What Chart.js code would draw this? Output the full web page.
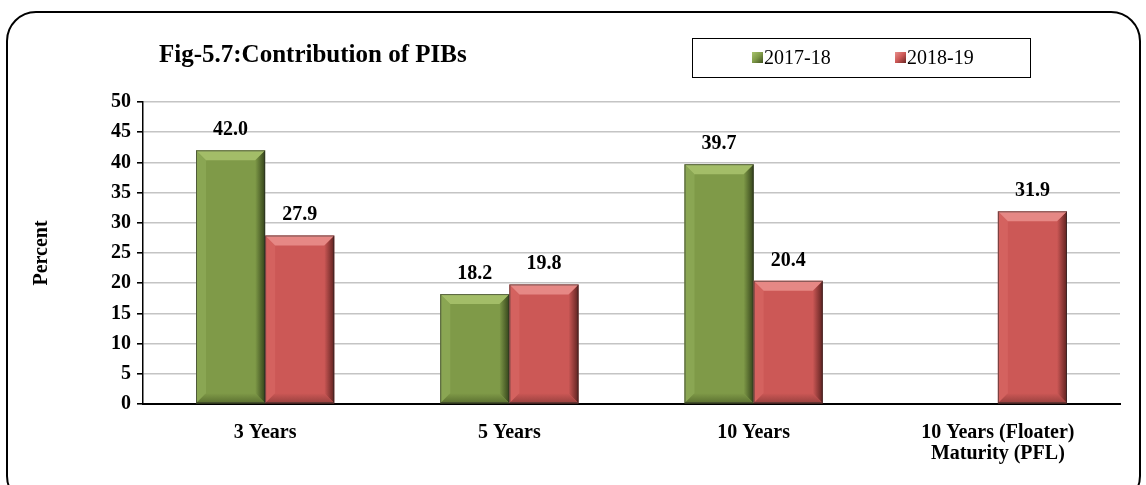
<!DOCTYPE html>
<html><head><meta charset="utf-8">
<script src="https://cdn.jsdelivr.net/npm/chart.js@4.4.1/dist/chart.umd.min.js"></script>
<style>
html,body{margin:0;padding:0;background:#fff;}
#wrap{position:relative;width:1146px;height:485px;overflow:hidden;}
#frame{position:absolute;left:6px;top:11px;width:1135px;height:495px;border:2px solid #000;border-radius:30px;box-sizing:border-box;}
#title{position:absolute;left:159px;top:40px;font:bold 25px "Liberation Serif";color:#000;white-space:nowrap;}
#legend{position:absolute;left:692px;top:38px;width:339px;height:40px;border:1.5px solid #000;box-sizing:border-box;font:20px "Liberation Serif";color:#000;}
.item{position:absolute;top:7px;white-space:nowrap;}
.mk{display:inline-block;width:11px;height:11px;margin-right:1px;vertical-align:1px;}
canvas{position:absolute;left:0;top:0;}
</style></head>
<body>
<div id="wrap">
<canvas id="c" width="1146" height="485"></canvas>
<div id="frame"></div>
<div id="title">Fig-5.7:Contribution of PIBs</div>
<div id="legend">
<span class="item" style="left:59px"><span class="mk" style="background:linear-gradient(135deg,#a9c46e,#7f9a48 50%,#3e4f1e)"></span>2017-18</span>
<span class="item" style="left:202px"><span class="mk" style="background:linear-gradient(135deg,#e8908d,#cc5856 50%,#6a2624)"></span>2018-19</span>
</div>
</div>
<script>
const categories = [['3 Years'], ['5 Years'], ['10 Years'], ['10 Years (Floater)', 'Maturity (PFL)']];
const seriesNames = ['2017-18', '2018-19'];
const values2017 = [42.0, 18.2, 39.7, null];
const values2018 = [27.9, 19.8, 20.4, 31.9];
const yMin = 0, yMax = 50, yStep = 5;

const palettes = [
  {face:'#7f9a48', top:'#a3bd68', left:'#8aa653', right:'#34431a', bottom:'#5b7030'},
  {face:'#cc5856', top:'#e68885', left:'#d4625f', right:'#5e2220', bottom:'#98403e'}
];

const bevelPlugin = {
  id:'bevel',
  afterDatasetsDraw(chart){
    const ctx = chart.ctx;
    chart.data.datasets.forEach((ds, i) => {
      const meta = chart.getDatasetMeta(i);
      const p = palettes[i];
      meta.data.forEach((bar, j) => {
        if (ds.data[j] == null) return;
        const L = bar.x - bar.width/2, R = bar.x + bar.width/2, T = bar.y, B = bar.base;
        const b = Math.min(10, (B - T)/2);
        const poly = (pts, fill) => { ctx.beginPath(); ctx.moveTo(pts[0][0], pts[0][1]); for (let k=1;k<pts.length;k++) ctx.lineTo(pts[k][0], pts[k][1]); ctx.closePath(); ctx.fillStyle = fill; ctx.fill(); };
        ctx.save();
        poly([[L,T],[L+b,T+b],[L+b,B-b],[L,B]], p.left);
        const gr = ctx.createLinearGradient(R-b,0,R,0); gr.addColorStop(0,p.face); gr.addColorStop(1,p.right);
        poly([[R,T],[R-b,T+b],[R-b,B-b],[R,B]], gr);
        const gb = ctx.createLinearGradient(0,B-b,0,B); gb.addColorStop(0,p.face); gb.addColorStop(1,p.bottom);
        poly([[L,B],[R,B],[R-b,B-b],[L+b,B-b]], gb);
        poly([[L,T],[R,T],[R-b,T+b],[L+b,T+b]], p.top);
        ctx.strokeStyle = 'rgba(40,40,40,0.6)'; ctx.lineWidth = 1;
        ctx.strokeRect(L+0.5, T+0.5, R-L-1, B-T-1);
        ctx.restore();
      });
    });
    ctx.save();
    ctx.font = 'bold 20px "Liberation Serif"';
    ctx.fillStyle = '#000'; ctx.textAlign = 'center'; ctx.textBaseline = 'alphabetic';
    chart.data.datasets.forEach((ds, i) => {
      chart.getDatasetMeta(i).data.forEach((bar, j) => {
        const v = ds.data[j]; if (v == null) return;
        ctx.fillText(v.toFixed(1), bar.x, bar.y - 15);
      });
    });
    ctx.restore();
  }
};

new Chart(document.getElementById('c'), {
  type:'bar',
  data:{
    labels: categories,
    datasets:[
      {label: seriesNames[0], data: values2017, backgroundColor: palettes[0].face, borderWidth:0},
      {label: seriesNames[1], data: values2018, backgroundColor: palettes[1].face, borderWidth:0}
    ]
  },
  options:{
    responsive:false, animation:false,
    devicePixelRatio:1,
    layout:{padding:{top:102, right:26, left:0, bottom:0}},
    datasets:{bar:{categoryPercentage:0.566, barPercentage:1.0}},
    plugins:{legend:{display:false}, title:{display:false}, tooltip:{enabled:false}},
    scales:{
      x:{
        grid:{display:false, drawTicks:false},
        border:{display:true, color:'#000', width:2},
        ticks:{color:'#000', font:{family:'Liberation Serif', size:20, weight:'bold', lineHeight:1.05}, padding:18, maxRotation:0, autoSkip:false},
        afterFit(s){ s.height = 81; }
      },
      y:{
        min:yMin, max:yMax,
        ticks:{stepSize:yStep, color:'#000', font:{family:'Liberation Serif', size:20, weight:'bold'}, padding:6},
        grid:{color:'#c4c4c4', lineWidth:1.6, tickColor:'#000', tickLength:6, drawTicks:true},
        border:{display:true, color:'#000', width:1.5},
        title:{display:true, text:'Percent', color:'#000', font:{family:'Liberation Serif', size:20, weight:'bold'}, padding:{top:30, bottom:0}},
        afterFit(s){ s.width = 143; }
      }
    }
  },
  plugins:[bevelPlugin]
});
</script>
</body></html>
